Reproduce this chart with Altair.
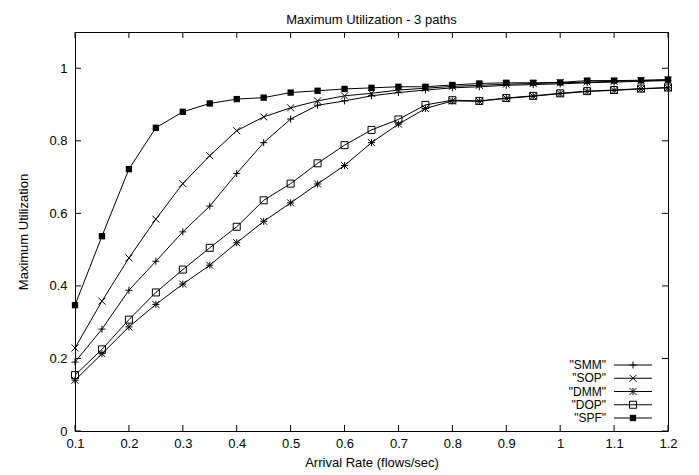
import altair as alt
import pandas as pd

# ---- data ----
rates = [0.10, 0.15, 0.20, 0.25, 0.30, 0.35, 0.40, 0.45, 0.50, 0.55, 0.60, 0.65,
         0.70, 0.75, 0.80, 0.85, 0.90, 0.95, 1.00, 1.05, 1.10, 1.15, 1.20]

smm = [0.190, 0.281, 0.388, 0.468, 0.549, 0.620, 0.710, 0.795, 0.860, 0.898, 0.910, 0.924,
       0.933, 0.940, 0.946, 0.949, 0.953, 0.955, 0.957, 0.960, 0.962, 0.964, 0.966]
sop = [0.229, 0.358, 0.477, 0.584, 0.682, 0.759, 0.828, 0.866, 0.891, 0.910, 0.924, 0.931,
       0.940, 0.945, 0.950, 0.953, 0.956, 0.958, 0.960, 0.962, 0.964, 0.966, 0.967]
dmm = [0.140, 0.213, 0.287, 0.349, 0.405, 0.457, 0.519, 0.578, 0.629, 0.681, 0.732, 0.795,
       0.846, 0.889, 0.910, 0.909, 0.917, 0.923, 0.930, 0.936, 0.939, 0.943, 0.946]
dop = [0.154, 0.225, 0.307, 0.382, 0.445, 0.505, 0.563, 0.636, 0.682, 0.738, 0.788, 0.830,
       0.859, 0.899, 0.912, 0.910, 0.918, 0.924, 0.931, 0.937, 0.940, 0.944, 0.947]
spf = [0.347, 0.537, 0.722, 0.836, 0.880, 0.903, 0.915, 0.919, 0.933, 0.938, 0.943, 0.946,
       0.949, 0.949, 0.954, 0.958, 0.960, 0.960, 0.961, 0.966, 0.966, 0.967, 0.969]

series_names = ["SMM", "SOP", "DMM", "DOP", "SPF"]
series_values = [smm, sop, dmm, dop, spf]
legend_labels = ['"SMM"', '"SOP"', '"DMM"', '"DOP"', '"SPF"']

x_ticks = [0.1, 0.2, 0.3, 0.4, 0.5, 0.6, 0.7, 0.8, 0.9, 1.0, 1.1, 1.2]
y_ticks = [0, 0.2, 0.4, 0.6, 0.8, 1.0]

chart_title = "Maximum Utilization - 3 paths"

# ---- style ----
FONT = "Liberation Sans"
FS = 13
W, H = 593, 399
PLUS = "M-1,0L1,0M0,-1L0,1"
XMARK = "M-1,-1L1,1M-1,1L1,-1"
STAR = "M-1,0L1,0M0,-1L0,1M-1,-1L1,1M-1,1L1,-1"
SQUARE = "M-1,-1L1,-1L1,1L-1,1Z"
shape_range = [PLUS, XMARK, STAR, SQUARE, SQUARE]

rows = []
for name, vals in zip(series_names, series_values):
    for r, v in zip(rates, vals):
        rows.append({"series": name, "rate": r, "util": v})
df = pd.DataFrame(rows)

xs = alt.Scale(domain=[0.1, 1.2], nice=False, zero=False)
ys = alt.Scale(domain=[0, 1.1], nice=False, zero=False)
shape_scale = alt.Scale(domain=series_names, range=shape_range)

x_enc = alt.X("rate:Q", scale=xs,
              axis=alt.Axis(values=x_ticks, format="~g", title="Arrival Rate (flows/sec)",
                            titleY=31, titleBaseline="middle", labelPadding=6,
                            labelFlush=False, labelOverlap=False))
y_enc = alt.Y("util:Q", scale=ys,
              axis=alt.Axis(values=y_ticks, format="~g", title="Maximum Utilization",
                            titleX=-52, titleY=H / 2, titleAngle=270,
                            titleBaseline="middle", titleAlign="center",
                            labelPadding=8, labelFlush=False, labelOverlap=False))

base = alt.Chart(df)

lines = base.mark_line(color="black", strokeWidth=1).encode(
    x=x_enc, y=y_enc, detail="series:N", order="rate:Q")

open_pts = base.transform_filter(alt.datum.series != "SPF").mark_point(
    filled=False, color="black", strokeWidth=1, opacity=1, size=49).encode(
    x="rate:Q", y="util:Q",
    shape=alt.Shape("series:N", scale=shape_scale, legend=None))

spf_pts = base.transform_filter(alt.datum.series == "SPF").mark_point(
    filled=True, color="black", opacity=1, size=40, shape=SQUARE).encode(
    x="rate:Q", y="util:Q")

xt = pd.DataFrame({"rate": x_ticks})
yt = pd.DataFrame({"util": y_ticks})
tick_len = 6
ticks_bottom = alt.Chart(xt).mark_rule(color="black", strokeWidth=1).encode(
    x="rate:Q", y=alt.value(H), y2=alt.value(H - tick_len))
ticks_top = alt.Chart(xt).mark_rule(color="black", strokeWidth=1).encode(
    x="rate:Q", y=alt.value(0), y2=alt.value(tick_len))
ticks_left = alt.Chart(yt).mark_rule(color="black", strokeWidth=1).encode(
    y="util:Q", x=alt.value(0), x2=alt.value(tick_len))
ticks_right = alt.Chart(yt).mark_rule(color="black", strokeWidth=1).encode(
    y="util:Q", x=alt.value(W), x2=alt.value(W - tick_len))

main = alt.layer(lines, open_pts, spf_pts, ticks_bottom, ticks_top, ticks_left, ticks_right)

# ---- legend (gnuplot style: label left, line + marker right) ----
ldf = pd.DataFrame({"series": series_names, "label": legend_labels})
ly = alt.Y("series:N", scale=alt.Scale(type="point", domain=series_names,
                                       range=[333, 386], padding=0), axis=None)
lbase = alt.Chart(ldf)
leg_text = lbase.mark_text(align="right", baseline="middle", font=FONT, fontSize=12,
                           color="black").encode(x=alt.value(531), y=ly, text="label:N")
leg_rule = lbase.mark_rule(color="black", strokeWidth=1).encode(
    x=alt.value(539), x2=alt.value(577), y=ly)
leg_open = lbase.transform_filter(alt.datum.series != "SPF").mark_point(
    filled=False, color="black", strokeWidth=1, opacity=1, size=49).encode(
    x=alt.value(558), y=ly,
    shape=alt.Shape("series:N", scale=shape_scale, legend=None))
leg_spf = lbase.transform_filter(alt.datum.series == "SPF").mark_point(
    filled=True, color="black", opacity=1, size=40, shape=SQUARE).encode(
    x=alt.value(558), y=ly)
legend = alt.layer(leg_text, leg_rule, leg_open, leg_spf)

chart = alt.layer(main, legend).resolve_scale(y="independent").properties(
    width=W, height=H,
    autosize=alt.AutoSizeParams(type="none"),
    padding={"left": 67, "top": 24, "right": 20, "bottom": 44},
    title=alt.TitleParams(chart_title, font=FONT, fontSize=FS, fontWeight="normal",
                          color="black", anchor="middle", frame="group",
                          baseline="alphabetic", offset=14, dy=19),
).configure_view(stroke="black", strokeWidth=1).configure_axis(
    grid=False, domain=False, ticks=False,
    labelFont=FONT, labelFontSize=FS, labelColor="black",
    titleFont=FONT, titleFontSize=FS, titleFontWeight="normal", titleColor="black",
)

chart.save("out.html", embed_options={"renderer": "svg", "actions": False})
